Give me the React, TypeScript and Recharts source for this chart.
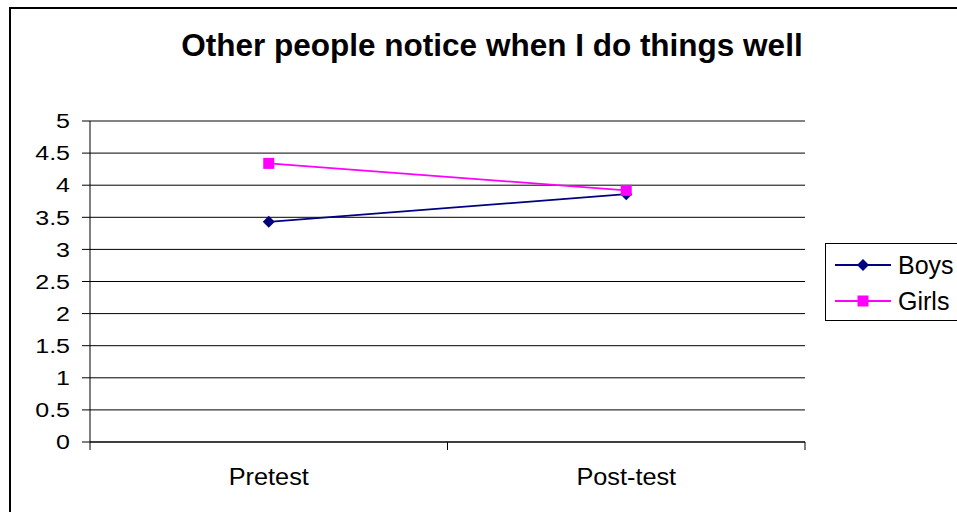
import React from 'react';
import { LineChart, Line, XAxis, YAxis, CartesianGrid, ReferenceLine } from 'recharts';

const categories = ['Pretest', 'Post-test'];
const boys = [3.43, 3.86];
const girls = [4.34, 3.92];
const yTicks = [0, 0.5, 1, 1.5, 2, 2.5, 3, 3.5, 4, 4.5, 5];

const data = categories.map((name, i) => ({ name, Boys: boys[i], Girls: girls[i] }));

const FONT = '"Liberation Sans", Arial, sans-serif';
const BOYS_COLOR = '#000080';
const GIRLS_COLOR = '#ff00ff';

const Diamond = (props: any) => {
    const { cx, cy } = props;
    if (cx == null || cy == null) return null;
    return <path d={`M${cx},${cy - 6} L${cx + 6},${cy} L${cx},${cy + 6} L${cx - 6},${cy} Z`} fill={BOYS_COLOR} />;
};

const Square = (props: any) => {
    const { cx, cy } = props;
    if (cx == null || cy == null) return null;
    return <rect x={cx - 5.5} y={cy - 5.5} width={11} height={11} fill={GIRLS_COLOR} />;
};

// category label in the middle of the band, tick marks on the band edges
const CategoryTick = (props: any) => {
    const { x, y, payload, index } = props;
    const half = 357.5 / 2;
    return (
        <g>
            <line x1={x - half} y1={y - 8} x2={x - half} y2={y} stroke="#000" />
            {index === categories.length - 1 && (
                <line x1={x + half} y1={y - 8} x2={x + half} y2={y} stroke="#000" />
            )}
            <text transform={`translate(${x},${y + 35}) scale(1.1,1)`} textAnchor="middle" fontSize={23} fontFamily={FONT} fill="#000">
                {payload.value}
            </text>
        </g>
    );
};

// the original's value labels are drawn wide
const ValueTick = (props: any) => {
    const { x, y, payload } = props;
    return (
        <text transform={`translate(${x},${y}) scale(1.25,1)`} textAnchor="end" dy="0.36em" fontSize={20} fontFamily={FONT} fill="#000">
            {payload.value}
        </text>
    );
};

const legendItems = [
    { name: 'Boys', color: BOYS_COLOR, Shape: Diamond },
    { name: 'Girls', color: GIRLS_COLOR, Shape: Square },
];

export default function App() {
    return (
        <div style={{ position: 'fixed', left: 0, top: 0, width: 957, height: 512, overflow: 'hidden', background: '#fff' }}>
            <div style={{
                position: 'absolute', left: 9, top: 7, width: 1000, height: 600,
                border: '2px solid #000', boxSizing: 'border-box',
            }} />
            <div style={{
                position: 'absolute', left: 0, top: 27, width: 984, textAlign: 'center',
                fontFamily: FONT, fontWeight: 'bold', fontSize: 31.5, color: '#000',
            }}>
                Other people notice when I do things well
            </div>
            <div style={{ position: 'absolute', left: 0, top: 0 }}>
                <LineChart width={957} height={512} data={data} margin={{ top: 121, right: 152, bottom: 30, left: 10 }}>
                    <CartesianGrid horizontal vertical={false} stroke="#000" />
                    <ReferenceLine y={5} stroke="#888" />
                    <XAxis
                        dataKey="name"
                        scale="band"
                        height={40}
                        axisLine={{ stroke: '#000' }}
                        tickLine={false}
                        tick={<CategoryTick />}
                        interval={0}
                    />
                    <YAxis
                        width={80}
                        domain={[0, 5]}
                        ticks={yTicks}
                        interval={0}
                        axisLine={{ stroke: '#000' }}
                        tickLine={{ stroke: '#000' }}
                        tickSize={8}
                        tickMargin={12}
                        tick={<ValueTick />}
                    />
                    <YAxis
                        yAxisId="r"
                        orientation="right"
                        width={0}
                        domain={[0, 5]}
                        tick={false}
                        tickLine={false}
                        axisLine={{ stroke: '#888' }}
                    />
                    <Line
                        type="linear"
                        dataKey="Boys"
                        stroke={BOYS_COLOR}
                        strokeWidth={1.8}
                        dot={<Diamond />}
                        isAnimationActive={false}
                    />
                    <Line
                        type="linear"
                        dataKey="Girls"
                        stroke={GIRLS_COLOR}
                        strokeWidth={1.8}
                        dot={<Square />}
                        isAnimationActive={false}
                    />
                </LineChart>
            </div>
            <div style={{
                position: 'absolute', left: 825, top: 243, width: 150, height: 78,
                border: '1.5px solid #000', boxSizing: 'border-box',
                fontFamily: FONT, fontSize: 25, background: '#fff', paddingTop: 3,
            }}>
                {legendItems.map(s => (
                    <div key={s.name} style={{ display: 'flex', alignItems: 'center', height: 36, paddingLeft: 9 }}>
                        <svg width={58} height={16}>
                            <line x1={0} y1={8} x2={56} y2={8} stroke={s.color} strokeWidth={1.8} />
                            <s.Shape cx={28} cy={8} />
                        </svg>
                        <span style={{ marginLeft: 5 }}>{s.name}</span>
                    </div>
                ))}
            </div>
        </div>
    );
}
